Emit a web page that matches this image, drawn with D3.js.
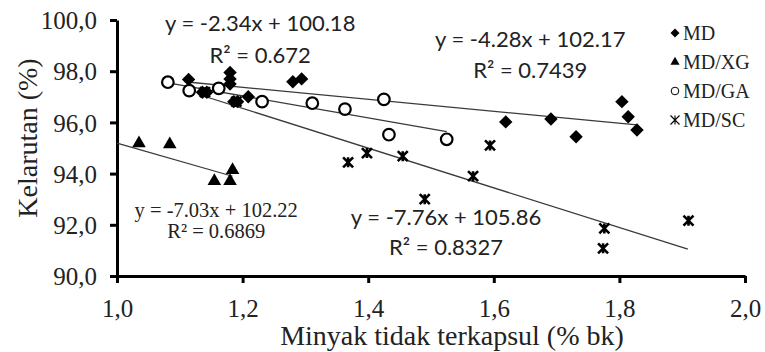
<!DOCTYPE html>
<html>
<head>
<meta charset="utf-8">
<script src="https://d3js.org/d3.v7.min.js"></script>
<style>
  body { margin: 0; background: #fff; }
  .serif { font-family: "Liberation Serif", "Times New Roman", serif; }
  .sans { font-family: Lato, "Open Sans", sans-serif; }
  .trend { stroke: #3a3a3a; stroke-width: 1.3; fill: none; }
</style>
</head>
<body>
<script>
// series names
var seriesNames = ["MD", "MD/XG", "MD/GA", "MD/SC"];

// x = unencapsulated oil (% bk), y = solubility (%)
var mdX = [1.114, 1.136, 1.143, 1.18, 1.18, 1.18, 1.186, 1.192, 1.209, 1.28, 1.294, 1.619, 1.691, 1.731, 1.804, 1.814, 1.828];
var mdY = [97.68, 97.18, 97.18, 97.95, 97.7, 97.5, 96.81, 96.81, 97.0, 97.59, 97.7, 96.02, 96.13, 95.44, 96.81, 96.22, 95.70];

var xgX = [1.035, 1.084, 1.155, 1.18, 1.184];
var xgY = [95.18, 95.14, 93.71, 93.71, 94.14];

var gaX = [1.081, 1.115, 1.162, 1.231, 1.311, 1.363, 1.425, 1.433, 1.525];
var gaY = [97.57, 97.24, 97.33, 96.81, 96.75, 96.52, 96.9, 95.52, 95.34];

var scX = [1.14, 1.19, 1.368, 1.398, 1.455, 1.49, 1.567, 1.594, 1.776, 1.774, 1.91];
var scY = [97.18, 96.81, 94.44, 94.8, 94.68, 93.0, 93.9, 95.1, 91.86, 91.08, 92.16];

// linear trend lines as printed on the chart
var trendSlope = [-2.34, -7.03, -4.28, -7.76];
var trendIntercept = [100.18, 102.22, 102.17, 105.86];
var trendR2 = ["0.672", "0.6869", "0.7439", "0.8327"];
var trendFrom = [1.108, 1.0, 1.081, 1.139];
var trendTo = [1.828, 1.184, 1.525, 1.909];

var xTicks = [1.0, 1.2, 1.4, 1.6, 1.8, 2.0];
var yTicks = [90, 92, 94, 96, 98, 100];

var width = 765, height = 352;

var svg = d3.select("body").append("svg")
  .attr("width", width)
  .attr("height", height);

var x = d3.scaleLinear().domain([1, 2]).range([117, 745]);
var y = d3.scaleLinear().domain([90, 100]).range([276, 20]);

var comma = function(d) { return d3.format(".1f")(d).replace(".", ","); };

// axes
var gx = svg.append("g")
  .attr("transform", "translate(0," + y(90) + ")")
  .call(d3.axisBottom(x).tickValues(xTicks).tickFormat(comma).tickSize(7).tickSizeOuter(0));
var gy = svg.append("g")
  .attr("transform", "translate(" + x(1) + ",0)")
  .call(d3.axisLeft(y).tickValues(yTicks).tickFormat(comma).tickSize(7).tickSizeOuter(0));

[gx, gy].forEach(function(g) {
  g.select(".domain").attr("stroke", "#000").attr("stroke-width", 3);
  g.selectAll(".tick line").attr("stroke", "#000").attr("stroke-width", 3);
  g.selectAll(".tick text")
    .attr("class", "serif")
    .attr("fill", "#222")
    .style("font-size", "25px");
});
gx.selectAll(".tick text").attr("y", 41).attr("dy", "0");
gy.selectAll(".tick text").attr("x", -20).attr("dy", "0.35em");

// axis titles
svg.append("text")
  .attr("class", "serif")
  .attr("x", 452).attr("y", 345)
  .attr("text-anchor", "middle")
  .style("font-size", "28px")
  .attr("fill", "#222")
  .text("Minyak tidak terkapsul (% bk)");

svg.append("text")
  .attr("class", "serif")
  .attr("transform", "translate(37,138) rotate(-90)")
  .attr("text-anchor", "middle")
  .style("font-size", "28px")
  .attr("fill", "#222")
  .text("Kelarutan (%)");

// trend lines
var trendData = seriesNames.map(function(n, i) {
  return [trendFrom[i], trendTo[i]].map(function(v) {
    return [v, trendSlope[i] * v + trendIntercept[i]];
  });
});
svg.append("g").selectAll("path")
  .data(trendData)
  .enter().append("path")
  .attr("class", "trend")
  .attr("d", d3.line().x(function(d) { return x(d[0]); }).y(function(d) { return y(d[1]); }));

// markers
function starPath(s) {
  var h = s / 2;
  return "M" + (-h) + "," + (-h) + "L" + h + "," + h +
         "M" + h + "," + (-h) + "L" + (-h) + "," + h +
         "M0," + (-h) + "L0," + h;
}
function drawMarker(g, type, big) {
  if (type === 0) {
    g.append("path")
      .attr("d", d3.symbol(d3.symbolSquare, big ? 90 : 40)())
      .attr("transform", "rotate(45)")
      .attr("fill", "#000");
  } else if (type === 1) {
    g.append("path")
      .attr("d", d3.symbol(d3.symbolTriangle, big ? 80 : 36)())
      .attr("fill", "#000");
  } else if (type === 2) {
    g.append("circle")
      .attr("r", big ? 5.8 : 3.8)
      .attr("fill", "#fff")
      .attr("stroke", "#000")
      .attr("stroke-width", big ? 2.2 : 1);
  } else {
    g.append("path")
      .attr("d", starPath(big ? 10 : 9))
      .attr("stroke", "#000")
      .attr("stroke-width", big ? 2.6 : 1.1)
      .attr("fill", "none");
  }
}

var allX = [mdX, xgX, gaX, scX];
var allY = [mdY, xgY, gaY, scY];
var order = [2, 3, 1, 0];
order.forEach(function(s) {
  var pts = allX[s].map(function(v, i) { return [v, allY[s][i]]; });
  svg.append("g").selectAll("g")
    .data(pts)
    .enter().append("g")
    .attr("transform", function(d) { return "translate(" + x(d[0]) + "," + y(d[1]) + ")"; })
    .each(function() { drawMarker(d3.select(this), s, true); });
});

// equation labels (center x, baseline y in data units)
var labelPos = [
  { x: 1.228, y1: 99.57, y2: 98.32, font: "sans", size: 22 },
  { x: 1.158, y1: 92.30, y2: 91.48, font: "serif", size: 20.5 },
  { x: 1.658, y1: 98.95, y2: 97.73, font: "sans", size: 22 },
  { x: 1.524, y1: 91.99, y2: 90.82, font: "sans", size: 22 }
];
seriesNames.forEach(function(n, i) {
  var p = labelPos[i];
  var eq = "y = " + trendSlope[i].toFixed(2) + "x + " + trendIntercept[i].toFixed(2);
  [[p.y1, eq], [p.y2, "R\u00b2 = " + trendR2[i]]].forEach(function(t) {
    svg.append("text")
      .attr("class", p.font)
      .attr("x", x(p.x)).attr("y", y(t[0]))
      .attr("text-anchor", "middle")
      .style("font-size", p.size + "px")
      .attr("fill", "#222")
      .text(t[1]);
  });
});

// legend
var legend = svg.append("g").attr("transform", "translate(675,33)");
seriesNames.forEach(function(n, i) {
  var row = legend.append("g").attr("transform", "translate(0," + (i * 29) + ")");
  drawMarker(row, i, false);
  row.append("text")
    .attr("class", "serif")
    .attr("x", 8).attr("dy", "0.35em")
    .style("font-size", "20px")
    .attr("fill", "#222")
    .text(n);
});
</script>
</body>
</html>
